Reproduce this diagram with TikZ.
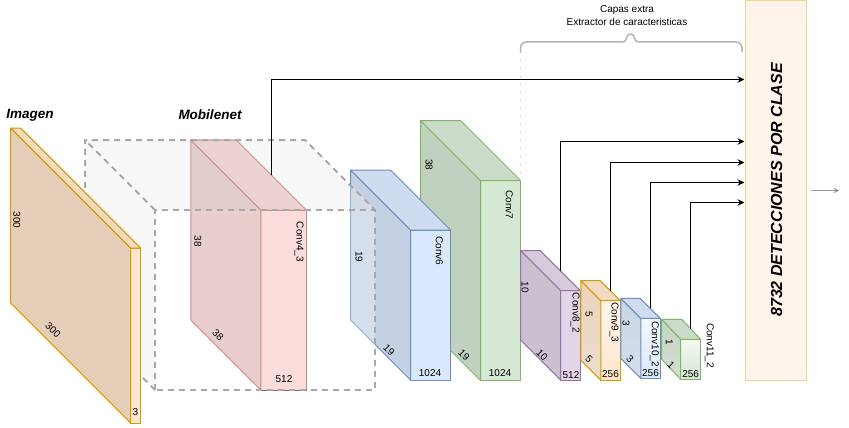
\documentclass[tikz,border=0pt]{standalone}
\usepackage{fontspec}
\setmainfont{Liberation Sans}
\usetikzlibrary{arrows.meta, calc}
\definecolor{ImgFill}{HTML}{FFE6CC}
\definecolor{ImgLine}{HTML}{D79B00}
\definecolor{RedFill}{HTML}{F8CECC}
\definecolor{RedLine}{HTML}{B85450}
\definecolor{BlueFill}{HTML}{DAE8FC}
\definecolor{BlueLine}{HTML}{6C8EBF}
\definecolor{GreenFill}{HTML}{D5E8D4}
\definecolor{GreenLine}{HTML}{82B366}
\definecolor{PurpleFill}{HTML}{E1D5E7}
\definecolor{PurpleLine}{HTML}{9673A6}
\definecolor{PanelFill}{HTML}{FEF4E9}
\definecolor{PanelLine}{HTML}{F3D48E}
\definecolor{CubeLine}{HTML}{A8A8A8}
\definecolor{CubeFill}{HTML}{EBEBEB}
\definecolor{GuideGray}{HTML}{B3B3B3}
\definecolor{OutGray}{HTML}{999999}
\tikzset{
    % front face of a layer block
    layerfront/.style={
        rectangle,
        inner sep=0pt,
        outer sep=0pt,
        line width=1pt
    },
    % side and top faces
    layerface/.style={
        line width=1pt,
        line join=round
    },
    dim label/.style={
        inner sep=0pt,
        font=\fontsize{10}{12}\selectfont
    },
    title label/.style={
        inner sep=0pt,
        font=\fontsize{13.5}{16}\selectfont\bfseries\itshape
    },
    cube face/.style={
        fill=CubeFill,
        fill opacity=0.4
    },
    cube edge/.style={
        draw=CubeLine,
        line width=2pt,
        dash pattern=on 6pt off 5pt
    },
    panel/.style={
        rectangle,
        draw=PanelLine,
        fill=PanelFill,
        line width=1pt,
        minimum width=61pt,
        minimum height=379pt,
        inner sep=0pt
    },
    panel text/.style={
        inner sep=0pt,
        font=\fontsize{16}{19}\selectfont\bfseries\itshape
    },
    arrow style/.style={
        -{Stealth[length=7pt,width=6.5pt]},
        line width=1pt,
        black
    },
    out arrow/.style={
        -{Stealth[length=6pt,width=5.5pt]},
        line width=1pt,
        OutGray
    },
    brace line/.style={
        draw=GuideGray,
        line width=1.5pt,
        line join=round
    },
    dotted guide/.style={
        draw=GuideGray,
        line width=1.3pt,
        line cap=round,
        dash pattern=on 0pt off 8pt
    },
    brace text/.style={
        inner sep=0pt,
        align=center,
        font=\fontsize{10}{12.2}\selectfont
    }
}

\begin{document}
\begin{tikzpicture}[x=1pt, y=1pt]
        \useasboundingbox (0,0) rectangle (849,-428);

        % Conv7 (behind Conv6)
        \node[layerfront, fill=GreenFill, draw=GreenLine, minimum width=40pt, minimum height=200pt] (conv7) at (500.5,-280.5) {};
        \draw[layerface, fill=GreenFill!90!black, draw=GreenLine] (conv7.north west) -- ++(-60,60) -- ++(0,-200) -- (conv7.south west) -- cycle;
        \draw[layerface, fill=GreenFill!95!black, draw=GreenLine] (conv7.north west) -- ++(-60,60) -- ++(40,0) -- (conv7.north east) -- cycle;

        % Conv6
        \node[layerfront, fill=BlueFill, draw=BlueLine, minimum width=40pt, minimum height=150pt] (conv6) at (430.5,-305) {};
        \draw[layerface, fill=BlueFill!90!black, draw=BlueLine] (conv6.north west) -- ++(-60,60) -- ++(0,-150) -- (conv6.south west) -- cycle;
        \draw[layerface, fill=BlueFill!95!black, draw=BlueLine] (conv6.north west) -- ++(-60,60) -- ++(40,0) -- (conv6.north east) -- cycle;

        % Conv4_3
        \node[layerfront, fill=RedFill, draw=RedLine, minimum width=45.5pt, minimum height=180pt] (conv43) at (283.5,-300) {};
        \draw[layerface, fill=RedFill!90!black, draw=RedLine] (conv43.north west) -- ++(-70,70) -- ++(0,-180) -- (conv43.south west) -- cycle;
        \draw[layerface, fill=RedFill!95!black, draw=RedLine] (conv43.north west) -- ++(-70,70) -- ++(45.5,0) -- (conv43.north east) -- cycle;

        % Mobilenet block (dashed cube)
        \node[layerfront, fill=white, fill opacity=0.3, minimum width=220pt, minimum height=180pt] (mobile) at (265,-300) {};
        \fill[cube face] (mobile.north west) -- ++(-70,70) -- ++(220,0) -- (mobile.north east) -- cycle;
        \fill[cube face] (mobile.north west) -- ++(-70,70) -- ++(0,-180) -- (mobile.south west) -- cycle;
        \draw[cube edge] (mobile.south west) rectangle (mobile.north east);
        \draw[cube edge] (mobile.south west) -- ++(-70,70) -- ++(0,180) -- ++(220,0) -- (mobile.north east);
        \draw[cube edge] (mobile.north west) -- ++(-70,70);

        % Input image
        \node[layerfront, fill=ImgFill, draw=ImgLine, minimum width=10pt, minimum height=175pt] (img) at (135.7,-335.5) {};
        \draw[layerface, fill=ImgFill!90!black, draw=ImgLine] (img.north west) -- ++(-120,120) -- ++(0,-175) -- (img.south west) -- cycle;
        \draw[layerface, fill=ImgFill!95!black, draw=ImgLine] (img.north west) -- ++(-120,120) -- ++(10,0) -- (img.north east) -- cycle;

        % Extra layers
        \node[layerfront, fill=PurpleFill, draw=PurpleLine, minimum width=19.5pt, minimum height=89.5pt] (conv82) at (570.4,-335.3) {};
        \draw[layerface, fill=PurpleFill!90!black, draw=PurpleLine] (conv82.north west) -- ++(-40,40) -- ++(0,-89.5) -- (conv82.south west) -- cycle;
        \draw[layerface, fill=PurpleFill!95!black, draw=PurpleLine] (conv82.north west) -- ++(-40,40) -- ++(19.5,0) -- (conv82.north east) -- cycle;

        \node[layerfront, top color=ImgFill!35, bottom color=ImgFill, draw=ImgLine, minimum width=19.5pt, minimum height=79.5pt] (conv93) at (610.5,-340.3) {};
        \draw[layerface, top color=ImgFill!92!black, bottom color=ImgFill!60!white!92!black, draw=ImgLine] (conv93.north west) -- ++(-20,20) -- ++(0,-79.5) -- (conv93.south west) -- cycle;
        \draw[layerface, fill=ImgFill!95!black, draw=ImgLine] (conv93.north west) -- ++(-20,20) -- ++(19.5,0) -- (conv93.north east) -- cycle;

        \node[layerfront, top color=BlueFill!30, bottom color=BlueFill, draw=BlueLine, minimum width=19.5pt, minimum height=60pt] (conv102) at (650.5,-348.3) {};
        \draw[layerface, top color=BlueFill!92!black, bottom color=BlueFill!60!white!92!black, draw=BlueLine] (conv102.north west) -- ++(-20,20) -- ++(0,-60) -- (conv102.south west) -- cycle;
        \draw[layerface, fill=BlueFill!95!black, draw=BlueLine] (conv102.north west) -- ++(-20,20) -- ++(19.5,0) -- (conv102.north east) -- cycle;

        \node[layerfront, top color=GreenFill!30, bottom color=GreenFill, draw=GreenLine, minimum width=20pt, minimum height=40pt] (conv112) at (690.7,-359.3) {};
        \draw[layerface, top color=GreenFill!92!black, bottom color=GreenFill!60!white!92!black, draw=GreenLine] (conv112.north west) -- ++(-19,20) -- ++(0,-40) -- (conv112.south west) -- cycle;
        \draw[layerface, fill=GreenFill!95!black, draw=GreenLine] (conv112.north west) -- ++(-19,20) -- ++(20,0) -- (conv112.north east) -- cycle;

        % Titles
        \node[title label] (imgtitle) at (30,-115) {Imagen};
        \node[title label] (mobtitle) at (210,-115) {Mobilenet};

        % Dimension labels
        \node[dim label, rotate=-90] (imgh) at (16.7,-220) {300};
        \node[dim label, rotate=-45] (imgw) at (53,-330) {300};
        \node[dim label] (imgc) at (135.5,-412) {3};

        \node[dim label, rotate=-90] (c43h) at (197.7,-241) {38};
        \node[dim label, rotate=-45] (c43w) at (218,-335) {38};
        \node[dim label, rotate=-90] (c43n) at (299,-242) {Conv4\_3};
        \node[dim label] (c43c) at (284,-379) {512};

        \node[dim label, rotate=-90] (c6h) at (359,-257) {19};
        \node[dim label, rotate=-45] (c6w) at (389,-350) {19};
        \node[dim label, rotate=-90] (c6n) at (439.3,-251) {Conv6};
        \node[dim label] (c6c) at (430,-373) {1024};

        \node[dim label, rotate=-90] (c7h) at (429,-165) {38};
        \node[dim label, rotate=-45] (c7w) at (464,-355) {19};
        \node[dim label, rotate=-90] (c7n) at (509.3,-205) {Conv7};
        \node[dim label] (c7c) at (500,-373) {1024};

        \node[dim label, rotate=-90] (c82h) at (525,-287) {10};
        \node[dim label, rotate=-45] (c82w) at (542,-355) {10};
        \node[dim label, rotate=-90] (c82n) at (575,-313) {Conv8\_2};
        \node[dim label] (c82c) at (571,-375) {512};

        \node[dim label, rotate=-90] (c93h) at (589,-314) {5};
        \node[dim label, rotate=-45] (c93w) at (589,-359) {5};
        \node[dim label, rotate=-90] (c93n) at (614,-322.5) {Conv9\_3};
        \node[dim label] (c93c) at (610.5,-374) {256};

        \node[dim label, rotate=-90] (c102h) at (626,-323) {3};
        \node[dim label, rotate=-45] (c102w) at (630,-359) {3};
        \node[dim label, rotate=-90] (c102n) at (654.3,-344) {Conv10\_2};
        \node[dim label] (c102c) at (650.5,-373) {256};

        \node[dim label, rotate=-90] (c112h) at (669.3,-342) {1};
        \node[dim label, rotate=-45] (c112w) at (671,-365) {1};
        \node[dim label, rotate=-90] (c112n) at (709.3,-345.5) {Conv11\_2};
        \node[dim label] (c112c) at (690.7,-374) {256};

        % Detections panel
        \node[panel] (panel) at (775.5,-190.5) {};
        \node[panel text, rotate=90] (panellbl) at (776.7,-190) {8732 DETECCIONES POR CLASE};
        \coordinate (outend) at (839.5,-190.5);
        \draw[out arrow] ([xshift=4pt]panel.east) -- (outend);

        % Extra layers brace
        \coordinate (bracel) at (520.5,-52);
        \coordinate (bracer) at (742,-52);
        \draw[brace line] (bracel) -- ++(0,4) arc[start angle=180, end angle=90, radius=6] -- (622.5,-42) arc[start angle=-90, end angle=0, radius=4] arc[start angle=180, end angle=90, radius=4] arc[start angle=90, end angle=0, radius=4] arc[start angle=180, end angle=270, radius=4] -- (736,-42) arc[start angle=90, end angle=0, radius=6] -- (bracer);
        \draw[dotted guide] (conv7.north east) -- (bracel);
        \node[brace text] (extra) at (627,-15.5) {Capas extra\\Extractor de caracteristicas};

        % Connections to the detections panel
        \coordinate (c43top) at ($(conv43.north east)+(-35,35)$);
        \coordinate (c82top) at ($(conv82.north east)+(-19.5,19.5)$);
        \coordinate (c93top) at ($(conv93.north east)+(-10,10)$);
        \coordinate (c102top) at ($(conv102.north east)+(-10,10)$);
        \coordinate (c112top) at ($(conv112.north east)+(-10,10)$);
        \draw[arrow style] (c43top) |- ($(panel.north west)+(0,-79)$);
        \draw[arrow style] (c82top) |- ($(panel.north west)+(0,-141)$);
        \draw[arrow style] (c93top) |- ($(panel.north west)+(0,-162)$);
        \draw[arrow style] (c102top) |- ($(panel.north west)+(0,-182)$);
        \draw[arrow style] (c112top) |- ($(panel.north west)+(0,-202)$);
    \end{tikzpicture}
\end{document}
